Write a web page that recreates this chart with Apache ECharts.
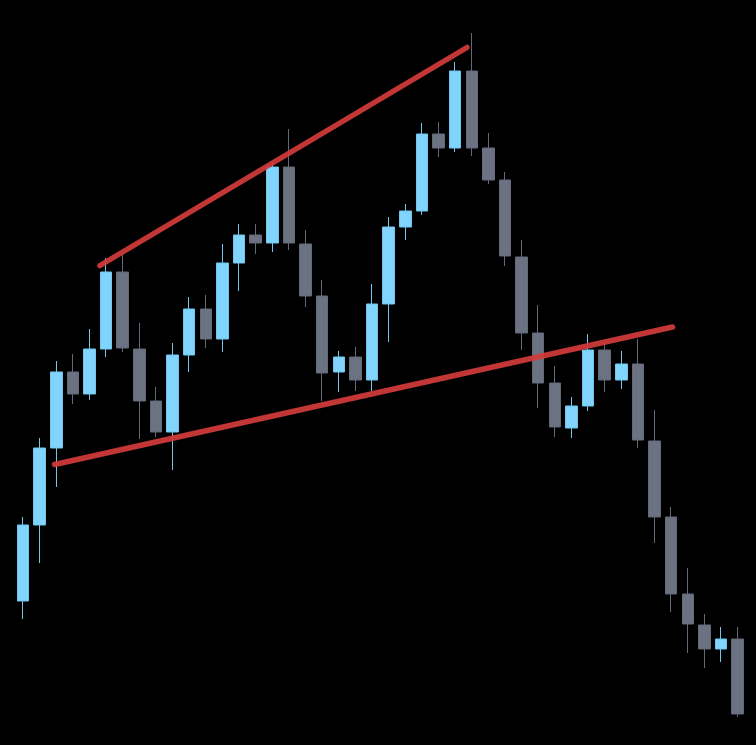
<!DOCTYPE html>
<html>
<head>
<meta charset="utf-8">
<script src="https://cdn.jsdelivr.net/npm/echarts@6/dist/echarts.min.js"></script>
<style>
html,body{margin:0;padding:0;background:#000;}
#chart{width:756px;height:745px;}
</style>
</head>
<body>
<div id="chart"></div>
<script>
const categories = ['1','2','3','4','5','6','7','8','9','10','11','12','13','14','15','16','17','18','19','20','21','22','23','24','25','26','27','28','29','30','31','32','33','34','35','36','37','38','39','40','41','42','43','44'];
const openValues  = [144,220,297,373,351,396,473,396,344,313,390,436,406,482,510,502,578,501,449,373,388,365,441,518,534,611,597,674,597,565,488,412,362,317,339,395,365,381,304,228,151,120,96,106];
const closeValues = [220,297,373,351,396,473,397,344,313,390,436,406,482,510,502,578,502,449,372,388,365,441,518,534,611,597,674,597,565,489,412,362,318,339,395,365,381,305,228,151,121,96,106,31];
const lowValues   = [126,182,258,341,345,388,393,306,308,275,373,397,393,454,491,493,495,438,344,353,354,354,403,505,530,588,593,589,561,479,395,337,308,307,334,353,356,297,202,133,92,77,83,28];
const highValues  = [228,307,384,391,416,487,492,422,358,402,448,450,501,521,521,583,616,515,465,394,398,461,528,541,622,623,683,712,612,573,505,440,379,348,411,403,394,406,335,238,177,131,118,118];
// trend lines: [bar position (index), value]
const upperTrend = [[4.63, 479.5], [26.71, 697.5]];
const lowerTrend = [[1.90, 280.5], [39.08, 418]];

const candleData = categories.map((c, i) => [openValues[i], closeValues[i], lowValues[i], highValues[i]]);

const chart = echarts.init(document.getElementById('chart'), null, {renderer: 'canvas'});
const trendStyle = {color: '#d23b3b', width: 5.5, cap: 'round', opacity: 0.92};
chart.setOption({
  backgroundColor: '#000000',
  animation: false,
  grid: {left: 14.7, right: 10, top: 0, bottom: 0},
  xAxis: [
    {type: 'category', data: categories, boundaryGap: true, show: false},
    {type: 'value', min: -0.5, max: 43.5, show: false}
  ],
  yAxis: {type: 'value', min: 0, max: 745, show: false},
  series: [
    {
      type: 'candlestick',
      xAxisIndex: 0,
      data: candleData,
      barWidth: 12,
      itemStyle: {
        color: '#80d4fd',
        color0: '#6b7282',
        borderColor: '#72c6ee',
        borderColor0: '#626978',
        borderWidth: 1
      }
    },
    {
      type: 'line', xAxisIndex: 1, data: upperTrend, symbol: 'none',
      lineStyle: trendStyle, z: 5
    },
    {
      type: 'line', xAxisIndex: 1, data: lowerTrend, symbol: 'none',
      lineStyle: trendStyle, z: 5
    }
  ]
});
</script>
</body>
</html>
